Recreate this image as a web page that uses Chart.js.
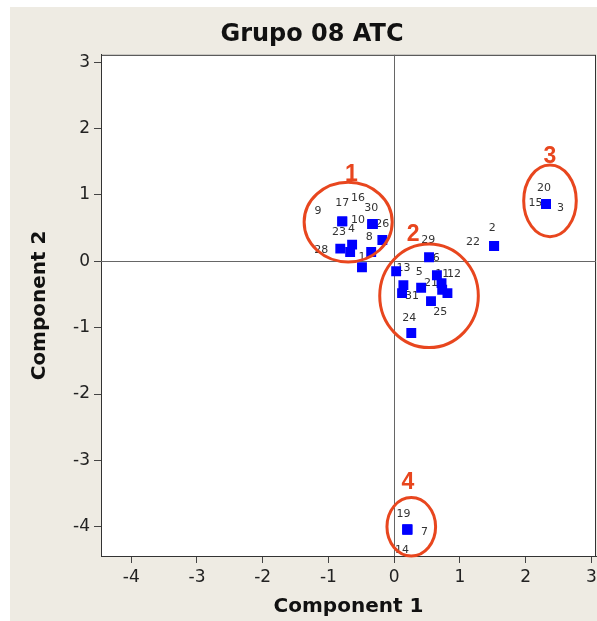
<!DOCTYPE html>
<html>
<head>
<meta charset="utf-8">
<title>Grupo 08 ATC</title>
<script src="https://cdn.jsdelivr.net/npm/chart.js@4.4.1/dist/chart.umd.min.js"></script>
<style>
  html, body { margin: 0; padding: 0; overflow: hidden; background: #fff; }
  #wrap { position: relative; width: 597px; height: 621px; overflow: hidden; }
  #panel { position: absolute; left: 10px; top: 7px; right: 0; bottom: 0; background: #eeebe3; }
  #chart { position: absolute; left: 0; top: 0; }
</style>
</head>
<body>
<div id="wrap">
  <div id="panel"></div>
  <canvas id="chart" width="597" height="621"></canvas>
</div>
<script>
// observations 1..31 (component scores)
const obsLabels = ["1","2","3","4","5","6","7","8","9","10","11","12","13","14","15","16",
                   "17","18","19","20","21","22","23","24","25","26","27","28","29","30","31"];
const comp1 = [-0.49, 1.52, 2.31, -0.64, 0.41, 0.65, 0.20, -0.18, -0.79, -0.33, 0.72, 0.81, 0.03, 0.20, 2.31, -0.33,
               -0.79, -0.35, 0.20, 2.31, 0.73, 1.52, -0.67, 0.26, 0.56, -0.33, 0.14, -0.82, 0.53, -0.33, 0.12];
const comp2 = [-0.09, 0.23, 0.86, 0.25, -0.40, -0.21, -4.04, 0.32, 0.60, 0.56, -0.33, -0.48, -0.15, -4.04, 0.86, 0.56,
               0.60, 0.14, -4.04, 0.86, -0.43, 0.23, 0.14, -1.08, -0.60, 0.56, -0.36, 0.19, 0.06, 0.56, -0.48];

// where each observation label sits (data units), null = hidden under other marks
const labelX = [-0.49, 1.49, 2.53, -0.65, 0.38, 0.64, 0.46, -0.38, -1.16, -0.55, 0.73, 0.91, 0.14, 0.12, 2.15, -0.55,
                -0.79, null, 0.14, 2.28, 0.56, 1.20, -0.84, 0.23, 0.70, -0.18, null, -1.11, 0.52, -0.35, 0.27];
const labelY = [0.06, 0.50, 0.80, 0.49, -0.16, 0.05, -4.08, 0.37, 0.76, 0.62, -0.19, -0.19, -0.10, -4.35, 0.88, 0.95,
                0.88, null, -3.81, 1.10, -0.33, 0.29, 0.44, -0.85, -0.76, 0.56, null, 0.17, 0.32, 0.80, -0.52];

const xTicks = [-4, -3, -2, -1, 0, 1, 2, 3];
const yTicks = [-4, -3, -2, -1, 0, 1, 2, 3];

// hand-drawn groups
const groupNames = ["1", "2", "3", "4"];
const groupCx = [-0.70, 0.53, 2.37, 0.26];
const groupCy = [0.59, -0.52, 0.91, -4.00];
const groupRx = [0.67, 0.75, 0.40, 0.37];
const groupRy = [0.60, 0.78, 0.54, 0.44];
const groupNumX = [-0.65, 0.29, 2.37, 0.21];
const groupNumY = [1.30, 0.40, 1.57, -3.34];

const RED = "#e8461e";

const plotDecor = {
  id: "plotDecor",
  beforeDraw(chart){
    const a = chart.chartArea, ctx = chart.ctx;
    ctx.save();
    ctx.fillStyle = "#fff";
    ctx.fillRect(a.left, a.top, a.right - a.left, a.bottom - a.top);
    ctx.restore();
  },
  beforeDatasetsDraw(chart){
    const a = chart.chartArea, ctx = chart.ctx;
    const xs = chart.scales.x, ys = chart.scales.y;
    ctx.save();
    // frame
    ctx.strokeStyle = "#333";
    ctx.lineWidth = 1;
    ctx.strokeRect(a.left + 0.5, a.top + 0.5, a.right - a.left - 1, a.bottom - a.top);
    // reference lines at 0
    ctx.strokeStyle = "#666";
    const x0 = Math.round(xs.getPixelForValue(0)) + 0.5;
    const y0 = Math.round(ys.getPixelForValue(0)) + 0.5;
    ctx.beginPath();
    ctx.moveTo(x0, a.top); ctx.lineTo(x0, a.bottom);
    ctx.moveTo(a.left, y0); ctx.lineTo(a.right, y0);
    ctx.stroke();
    // observation labels
    ctx.beginPath();
    ctx.rect(a.left, a.top, a.right - a.left, a.bottom - a.top);
    ctx.clip();
    ctx.fillStyle = "#333";
    ctx.font = '11px "DejaVu Sans"';
    ctx.textAlign = "center";
    ctx.textBaseline = "middle";
    obsLabels.forEach((t, i) => {
      if(labelX[i] === null) return;
      ctx.fillText(t, xs.getPixelForValue(labelX[i]), ys.getPixelForValue(labelY[i]));
    });
    ctx.restore();
  },
  afterDatasetsDraw(chart){
    const ctx = chart.ctx;
    const xs = chart.scales.x, ys = chart.scales.y;
    ctx.save();
    ctx.strokeStyle = RED;
    ctx.lineWidth = 3;
    groupNames.forEach((g, i) => {
      const cx = xs.getPixelForValue(groupCx[i]);
      const cy = ys.getPixelForValue(groupCy[i]);
      const rx = Math.abs(xs.getPixelForValue(groupCx[i] + groupRx[i]) - cx);
      const ry = Math.abs(ys.getPixelForValue(groupCy[i] + groupRy[i]) - cy);
      ctx.beginPath();
      ctx.ellipse(cx, cy, rx, ry, 0, 0, Math.PI * 2);
      ctx.stroke();
    });
    ctx.fillStyle = RED;
    ctx.font = 'bold 23px "Liberation Sans"';
    ctx.textAlign = "center";
    ctx.textBaseline = "middle";
    groupNames.forEach((g, i) => {
      ctx.fillText(g, xs.getPixelForValue(groupNumX[i]), ys.getPixelForValue(groupNumY[i]));
    });
    ctx.restore();
  }
};

const tickFont = { family: "DejaVu Sans", size: 17 };
const titleFont = { family: "DejaVu Sans", size: 20, weight: "bold" };

new Chart(document.getElementById("chart"), {
  type: "scatter",
  data: {
    datasets: [{
      label: "scores",
      data: comp1.map((x, i) => ({ x, y: comp2[i] })),
      pointStyle: "rect",
      pointRadius: 7,
      pointHoverRadius: 7,
      backgroundColor: "#0000ff",
      borderColor: "#0000ff",
      borderWidth: 0
    }]
  },
  options: {
    responsive: false,
    devicePixelRatio: 1,
    animation: false,
    layout: { autoPadding: false, padding: { left: 28, right: 1, top: 0, bottom: 0 } },
    plugins: {
      legend: { display: false },
      tooltip: { enabled: false },
      title: {
        display: true,
        text: "Grupo 08 ATC",
        color: "#111",
        font: { family: "DejaVu Sans", size: 24, weight: "bold" },
        padding: { top: 20, bottom: 6 }
      }
    },
    scales: {
      x: {
        type: "linear",
        min: -4.46,
        max: 3.07,
        afterBuildTicks: s => { s.ticks = xTicks.map(v => ({ value: v })); },
        afterFit: s => { s.height = 65; s.paddingLeft = 0; s.paddingRight = 0; },
        grid: { drawOnChartArea: false, tickLength: 7, color: "#444" },
        border: { color: "#333" },
        ticks: { padding: 4, color: "#222", font: tickFont, maxRotation: 0 },
        title: { display: true, text: "Component 1", color: "#111", font: titleFont, padding: { top: 0, bottom: 2 } }
      },
      y: {
        type: "linear",
        min: -4.44,
        max: 3.11,
        afterBuildTicks: s => { s.ticks = yTicks.map(v => ({ value: v })); },
        afterFit: s => { s.width = 73; s.paddingTop = 0; s.paddingBottom = 0; },
        grid: { drawOnChartArea: false, tickLength: 7, color: "#444" },
        border: { color: "#333" },
        ticks: { padding: 4, color: "#222", font: tickFont },
        title: { display: true, text: "Component 2", color: "#111", font: titleFont, padding: { top: 0, bottom: 0 } }
      }
    }
  },
  plugins: [plotDecor]
});
</script>
</body>
</html>
